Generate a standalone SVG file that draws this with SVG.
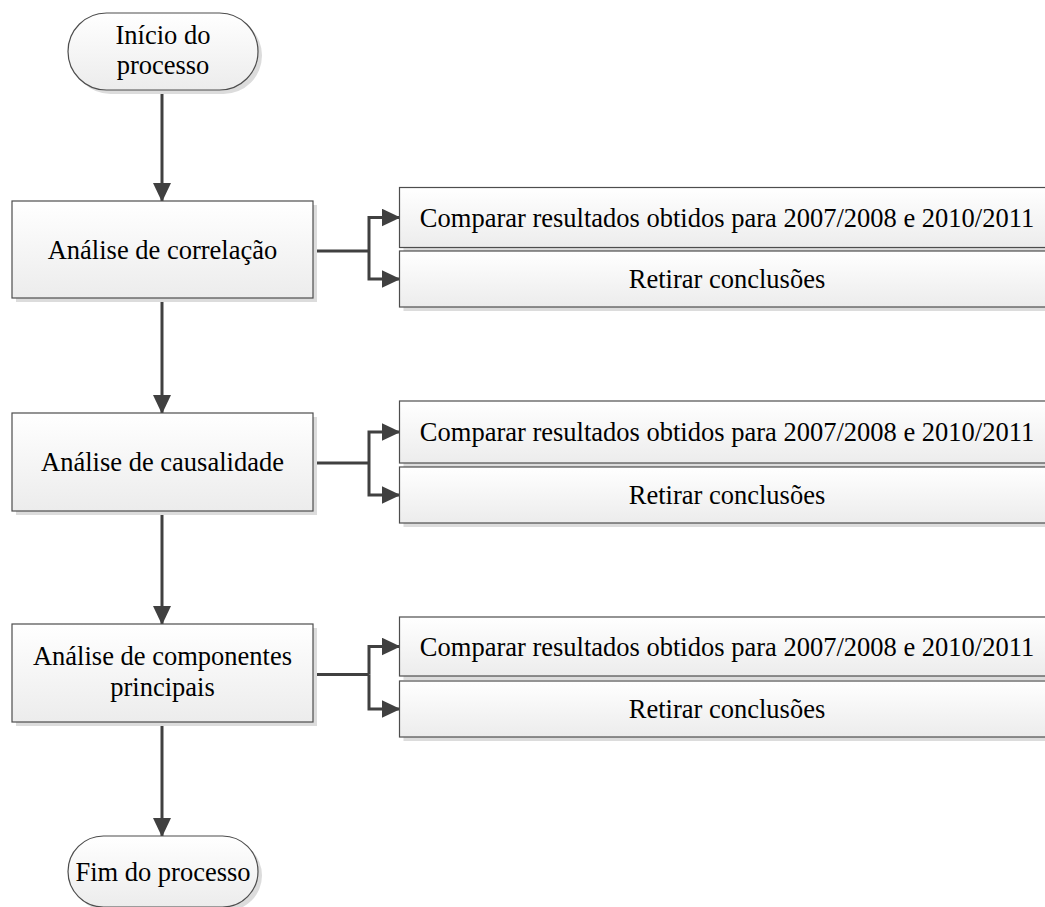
<svg xmlns="http://www.w3.org/2000/svg" width="1045" height="907" viewBox="0 0 1045 907">
<style>
.box{fill:url(#g);stroke:#4d4d4d;stroke-width:1.2}
.sh{fill:#dcdcdc}
text{font-family:'Liberation Serif','Times New Roman',Times,serif;font-size:26.5px;fill:#000;text-anchor:middle}
.c{fill:none;stroke:#404040;stroke-width:3}
</style>
<defs>
<linearGradient id="g" x1="0" y1="0" x2="0" y2="1">
<stop offset="0" stop-color="#ffffff"/>
<stop offset="1" stop-color="#ececec"/>
</linearGradient>
<marker id="a" viewBox="0 0 19 18" refX="18" refY="9" markerWidth="19" markerHeight="18" markerUnits="userSpaceOnUse" orient="auto">
<path d="M0,0 L19,9 L0,18 Z" fill="#404040"/>
</marker>
</defs>
<rect width="1045" height="907" fill="#ffffff"/>
<g id="connectors">
<line class="c" x1="162" y1="90" x2="162" y2="201" marker-end="url(#a)"/>
<line class="c" x1="162" y1="298" x2="162" y2="413" marker-end="url(#a)"/>
<line class="c" x1="162" y1="511" x2="162" y2="624" marker-end="url(#a)"/>
<line class="c" x1="162" y1="722" x2="162" y2="836" marker-end="url(#a)"/>
<path class="c" d="M313,251 H369"/>
<path class="c" d="M369,251 V217.5 H399.5" marker-end="url(#a)"/>
<path class="c" d="M369,251 V279 H399.5" marker-end="url(#a)"/>
<path class="c" d="M313,463 H369"/>
<path class="c" d="M369,463 V432 H399.5" marker-end="url(#a)"/>
<path class="c" d="M369,463 V495 H399.5" marker-end="url(#a)"/>
<path class="c" d="M313,674.5 H369"/>
<path class="c" d="M369,674.5 V646.5 H399.5" marker-end="url(#a)"/>
<path class="c" d="M369,674.5 V709 H399.5" marker-end="url(#a)"/>
</g>
<g id="start">
<rect class="sh" x="72" y="17" width="190" height="77" rx="38.5"/>
<rect class="box" x="68" y="13" width="190" height="77" rx="38.5"/>
<text x="163" y="43.5">Início do</text>
<text x="163" y="74">processo</text>
</g>
<g id="n1">
<rect class="sh" x="16" y="205" width="301" height="97"/>
<rect class="box" x="12" y="201" width="301" height="97"/>
<text x="162.5" y="258.5">Análise de correlação</text>
</g>
<g id="n1a">
<rect class="sh" x="403.5" y="191.5" width="654" height="60"/>
<rect class="box" x="399.5" y="187.5" width="654" height="60"/>
<text x="727" y="226.5">Comparar resultados obtidos para 2007/2008 e 2010/2011</text>
</g>
<g id="n1b">
<rect class="sh" x="403.5" y="255" width="654" height="56"/>
<rect class="box" x="399.5" y="251" width="654" height="56"/>
<text x="727" y="288">Retirar conclusões</text>
</g>
<g id="n2">
<rect class="sh" x="16" y="417" width="301" height="98"/>
<rect class="box" x="12" y="413" width="301" height="98"/>
<text x="162.5" y="471">Análise de causalidade</text>
</g>
<g id="n2a">
<rect class="sh" x="403.5" y="405" width="654" height="62"/>
<rect class="box" x="399.5" y="401" width="654" height="62"/>
<text x="727" y="440.7">Comparar resultados obtidos para 2007/2008 e 2010/2011</text>
</g>
<g id="n2b">
<rect class="sh" x="403.5" y="471" width="654" height="56"/>
<rect class="box" x="399.5" y="467" width="654" height="56"/>
<text x="727" y="504">Retirar conclusões</text>
</g>
<g id="n3">
<rect class="sh" x="16" y="628" width="301" height="98"/>
<rect class="box" x="12" y="624" width="301" height="98"/>
<text x="162.5" y="665">Análise de componentes</text>
<text x="162.5" y="696">principais</text>
</g>
<g id="n3a">
<rect class="sh" x="403.5" y="621" width="654" height="59"/>
<rect class="box" x="399.5" y="617" width="654" height="59"/>
<text x="727" y="655.5">Comparar resultados obtidos para 2007/2008 e 2010/2011</text>
</g>
<g id="n3b">
<rect class="sh" x="403.5" y="685" width="654" height="56"/>
<rect class="box" x="399.5" y="681" width="654" height="56"/>
<text x="727" y="718">Retirar conclusões</text>
</g>
<g id="end">
<rect class="sh" x="72" y="840" width="190" height="71" rx="35.5"/>
<rect class="box" x="68" y="836" width="190" height="71" rx="35.5"/>
<text x="163" y="880.5">Fim do processo</text>
</g>
</svg>
